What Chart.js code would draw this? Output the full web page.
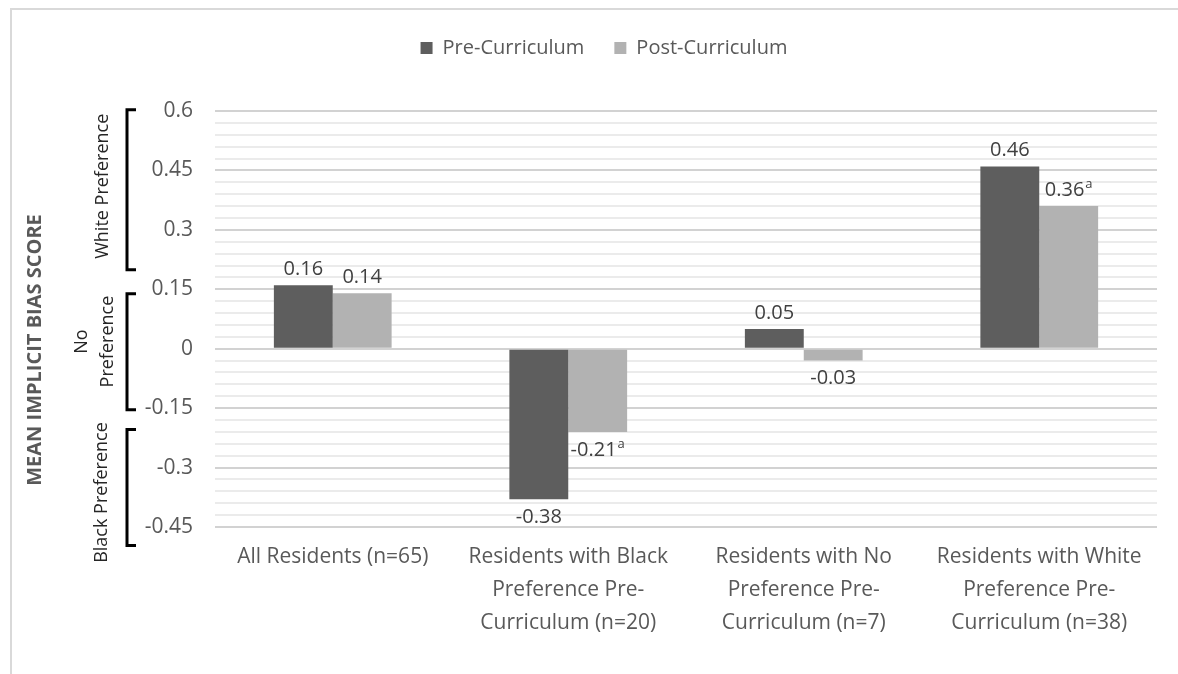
<!DOCTYPE html>
<html>
<head>
<meta charset="utf-8">
<script src="https://cdn.jsdelivr.net/npm/chart.js@4/dist/chart.umd.min.js"></script>
<style>
  html, body { margin: 0; padding: 0; background: #ffffff; }
  #wrap { position: relative; width: 1178px; height: 674px; overflow: hidden; }
  #frame { position: absolute; left: 10px; top: 8px; width: 1168px; height: 666px;
           border-top: 2px solid #d9d9d9; border-left: 2px solid #d9d9d9; box-sizing: border-box; }
  #chart { position: absolute; left: 0; top: 0; }
</style>
</head>
<body>
<div id="wrap">
  <div id="frame"></div>
  <canvas id="chart" width="1178" height="674"></canvas>
</div>
<script>
// Groups of residents (multi-line category labels)
const categories = [
  ["All Residents (n=65)"],
  ["Residents with Black", "Preference Pre-", "Curriculum (n=20)"],
  ["Residents with No", "Preference Pre-", "Curriculum (n=7)"],
  ["Residents with White", "Preference Pre-", "Curriculum (n=38)"]
];

// Mean implicit bias scores
const preValues  = [0.16, -0.38, 0.05, 0.46];
const postValues = [0.14, -0.21, -0.03, 0.36];

// Superscript notes next to value labels
const preNotes  = ["", "", "", ""];
const postNotes = ["", "a", "", "a"];

// Labelled y-axis ticks
const tickValues = [-0.45, -0.3, -0.15, 0, 0.15, 0.3, 0.45, 0.6];
const minorStep = 0.03;

// Preference bands shown as brackets beside the axis
const bandLabels  = [["White Preference"], ["No", "Preference"], ["Black Preference"]];
const bandTops    = [0.603, 0.139, -0.204];
const bandBottoms = [0.199, -0.154, -0.497];
const bandLabelAt = [0.41, 0.018, -0.363];
const bandLabelX  = [103, 95, 102];

const FONT = "'Open Sans', 'DejaVu Sans', sans-serif";
const DARK = '#5e5e5e';
const LIGHT = '#b2b2b2';

function isMajor(v) {
  return tickValues.some(t => Math.abs(t - v) < 1e-6);
}

// Extra room between the legend and the plot
const legendSpacing = {
  id: 'legendSpacing',
  afterInit(chart) {
    const legend = chart.legend;
    if (!legend || legend._spaced) return;
    const fit = legend.fit;
    legend.fit = function () {
      fit.call(this);
      this.height += 43;
    };
    legend._spaced = true;
  }
};

const valueLabels = {
  id: 'valueLabels',
  afterDatasetsDraw(chart) {
    const ctx = chart.ctx;
    ctx.save();
    chart.data.datasets.forEach((ds, di) => {
      const meta = chart.getDatasetMeta(di);
      meta.data.forEach((bar, i) => {
        const v = ds.data[i];
        const note = ds.notes[i];
        const main = String(v);
        ctx.font = '20px ' + FONT;
        const wMain = ctx.measureText(main).width;
        ctx.font = '13px ' + FONT;
        const wNote = note ? ctx.measureText(note).width + 1 : 0;
        const total = wMain + wNote;
        const x0 = bar.x - total / 2;
        const y = v >= 0 ? bar.y - 16 : bar.y + 18;
        ctx.fillStyle = '#404040';
        ctx.textAlign = 'left';
        ctx.textBaseline = 'middle';
        ctx.font = '20px ' + FONT;
        ctx.fillText(main, x0, y);
        if (note) {
          ctx.font = '13px ' + FONT;
          ctx.fillText(note, x0 + wMain + 1, y - 6);
        }
      });
    });
    ctx.restore();
  }
};

const sideAnnotations = {
  id: 'sideAnnotations',
  afterDraw(chart) {
    const ctx = chart.ctx;
    const ys = chart.scales.y;
    ctx.save();
    // axis title
    ctx.fillStyle = '#595959';
    ctx.font = 'bold 20px ' + FONT;
    ctx.textAlign = 'center';
    ctx.textBaseline = 'middle';
    ctx.translate(35, 350);
    ctx.rotate(-Math.PI / 2);
    ctx.fillText('MEAN IMPLICIT BIAS SCORE', 0, 0);
    ctx.restore();

    // brackets and their labels
    const bx = 127, serif = 9;
    bandLabels.forEach((lines, i) => {
      const yTop = ys.getPixelForValue(bandTops[i]);
      const yBot = ys.getPixelForValue(bandBottoms[i]);
      ctx.save();
      ctx.strokeStyle = '#000000';
      ctx.lineWidth = 3;
      ctx.lineJoin = 'miter';
      ctx.beginPath();
      ctx.moveTo(bx + serif, yTop);
      ctx.lineTo(bx, yTop);
      ctx.lineTo(bx, yBot);
      ctx.lineTo(bx + serif, yBot);
      ctx.stroke();

      const cy = ys.getPixelForValue(bandLabelAt[i]);
      ctx.fillStyle = '#262626';
      ctx.font = '18px ' + FONT;
      ctx.textAlign = 'center';
      ctx.textBaseline = 'middle';
      const lh = 26;
      const n = lines.length;
      ctx.translate(bandLabelX[i] - (n - 1) * lh / 2, cy);
      ctx.rotate(-Math.PI / 2);
      lines.forEach((t, k) => {
        ctx.fillText(t, 0, k * lh);
      });
      ctx.restore();
    });
  }
};

new Chart(document.getElementById('chart'), {
  type: 'bar',
  data: {
    labels: categories,
    datasets: [
      { label: 'Pre-Curriculum', data: preValues, notes: preNotes, backgroundColor: DARK },
      { label: 'Post-Curriculum', data: postValues, notes: postNotes, backgroundColor: LIGHT }
    ]
  },
  options: {
    responsive: false,
    animation: false,
    devicePixelRatio: 1,
    layout: { padding: { top: 8, right: 21, left: 51, bottom: 0 } },
    datasets: { bar: { categoryPercentage: 0.5, barPercentage: 1.0 } },
    plugins: {
      legend: {
        position: 'top',
        labels: {
          boxWidth: 12, boxHeight: 12, padding: 30,
          color: '#595959', font: { family: FONT, size: 20 }
        }
      },
      tooltip: { enabled: false }
    },
    scales: {
      x: {
        grid: { display: false },
        border: { display: false },
        ticks: {
          color: '#595959', font: { family: FONT, size: 21, lineHeight: 1.57 },
          padding: 6, maxRotation: 0, autoSkip: false
        },
        afterFit(scale) { scale.height = 147; }
      },
      y: {
        min: -0.45, max: 0.6,
        border: { display: false },
        grid: {
          drawTicks: false,
          color: c => isMajor(c.tick.value) ? '#d2d2d2' : '#ebebeb',
          lineWidth: 2
        },
        afterBuildTicks(scale) {
          const ticks = [];
          const n = Math.round((0.6 + 0.45) / minorStep);
          for (let i = 0; i <= n; i++) {
            ticks.push({ value: Math.round((-0.45 + i * minorStep) * 100) / 100 });
          }
          scale.ticks = ticks;
        },
        ticks: {
          color: '#595959', font: { family: FONT, size: 21 }, padding: 22,
          autoSkip: false,
          callback: v => isMajor(v) ? String(Math.round(v * 100) / 100) : ''
        },
        afterFit(scale) { scale.width = 164; }
      }
    }
  },
  plugins: [legendSpacing, valueLabels, sideAnnotations]
});
</script>
</body>
</html>
